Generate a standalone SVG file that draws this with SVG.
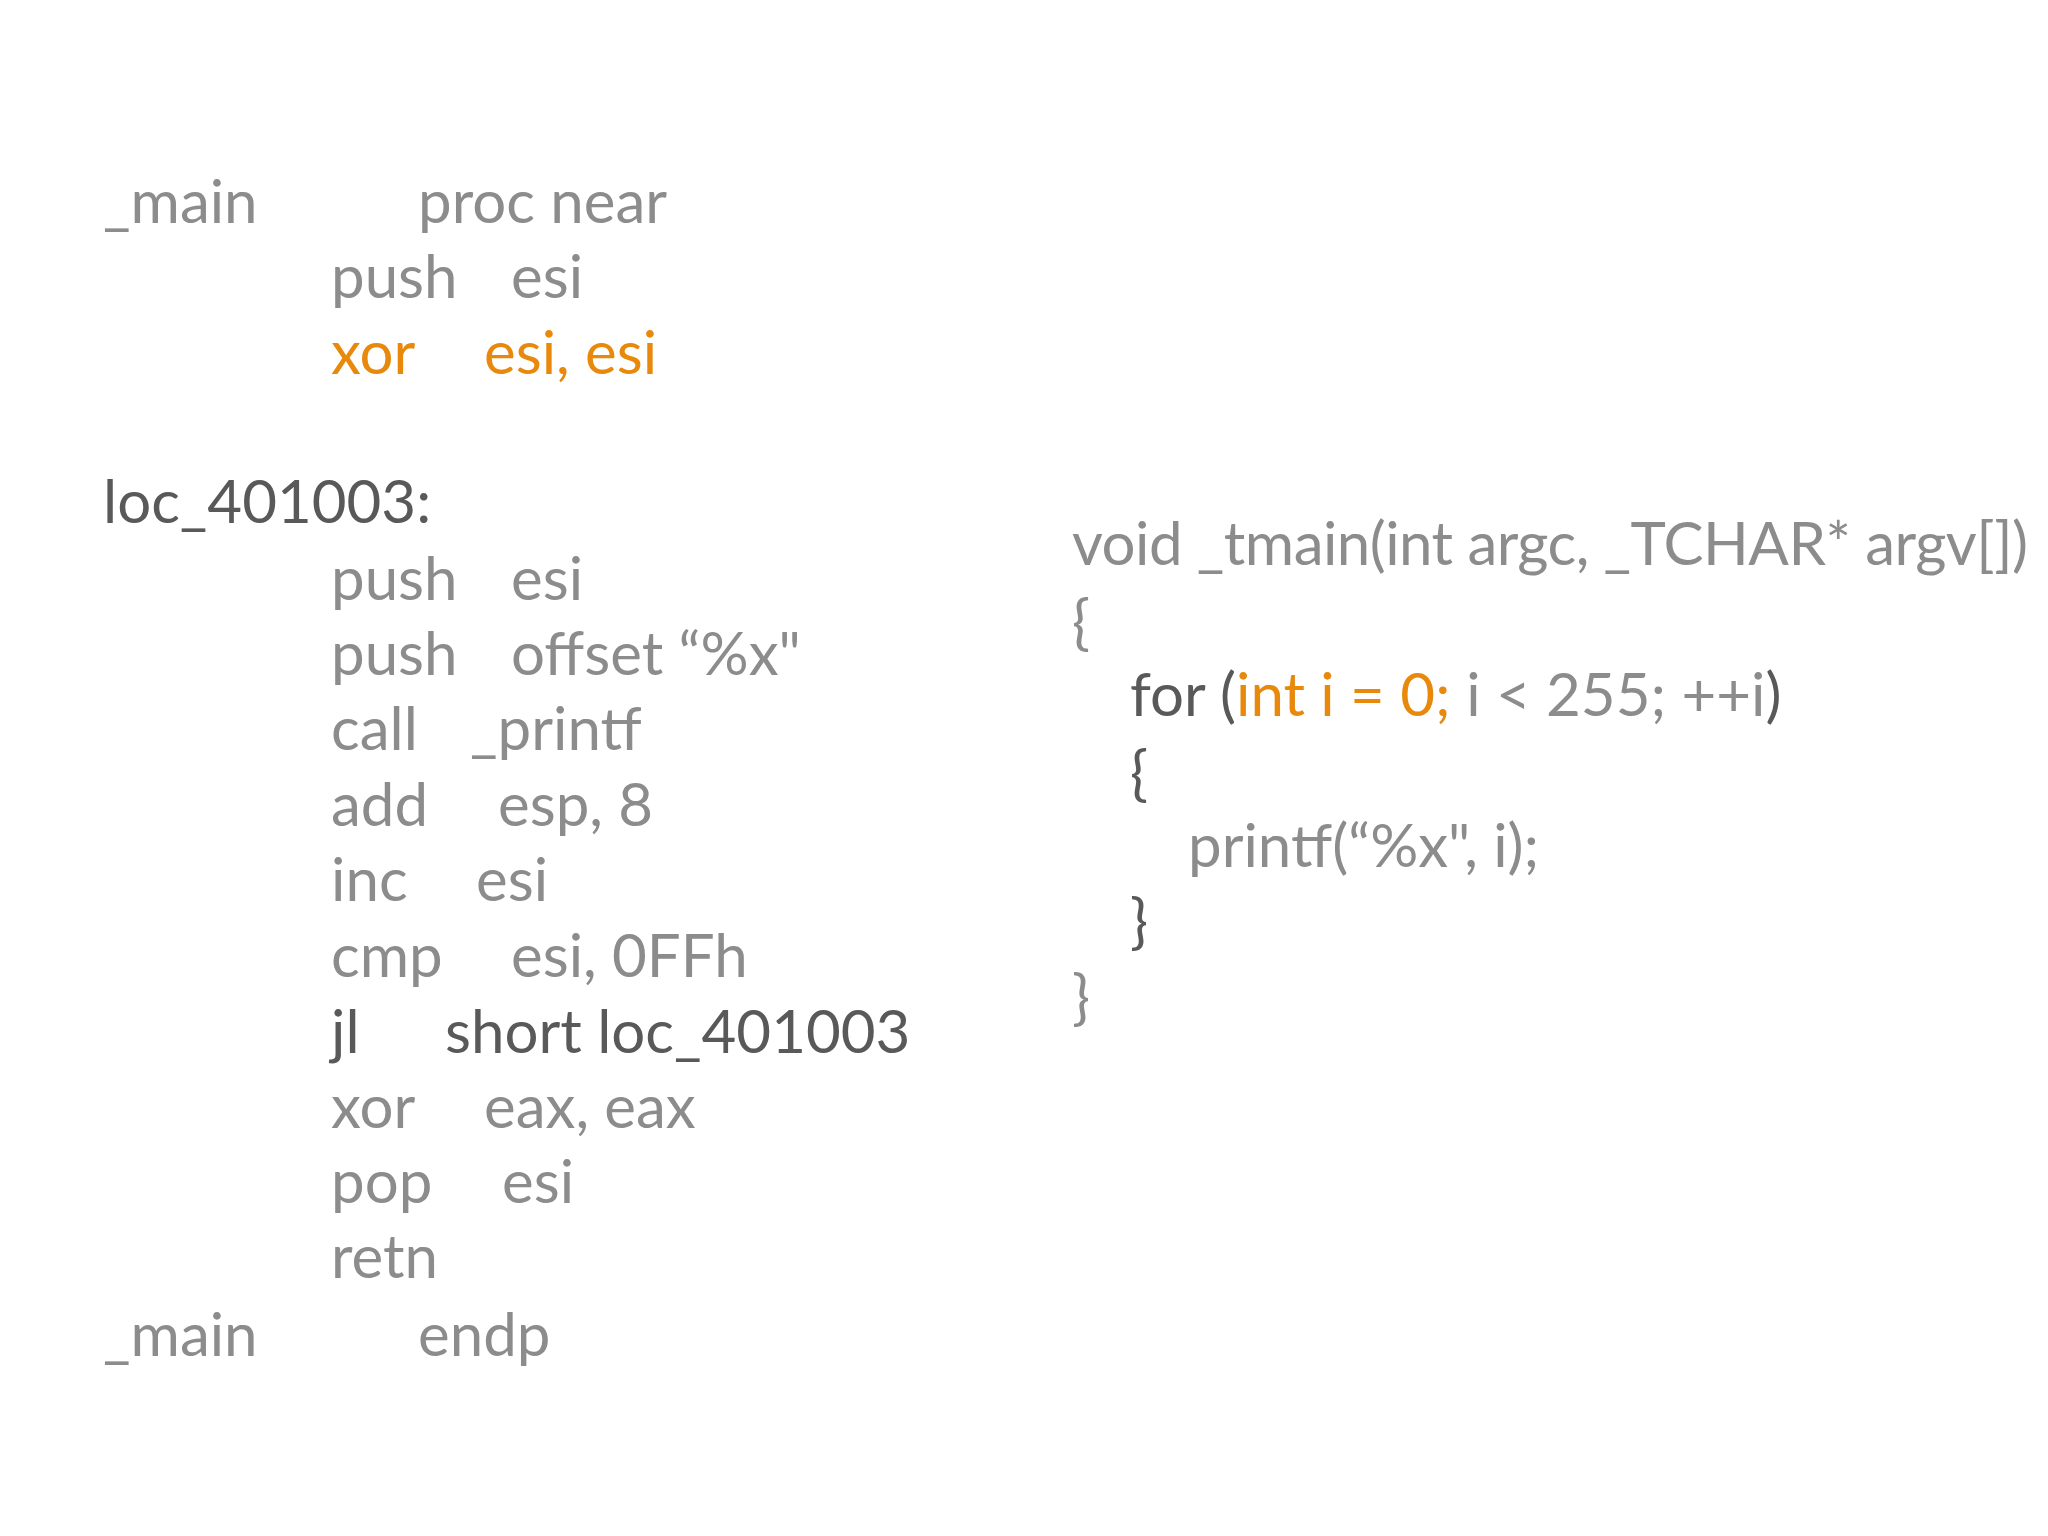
<svg xmlns="http://www.w3.org/2000/svg" width="2048" height="1536" viewBox="0 0 2048 1536">
<style>
text{font-family:"Lato","Open Sans",sans-serif;font-size:60px;fill:#8c8c8c}
.d{fill:#595959}.o{fill:#e8890c}
</style>
<rect width="2048" height="1536" fill="#fff"/>
<g id="asm">
<text x="103" y="223">_main</text><text x="418" y="223">proc near</text>
<text x="331" y="298">push</text><text x="511" y="298">esi</text>
<text x="331" y="374" class="o">xor</text><text x="484" y="374" class="o">esi, esi</text>
<text x="103" y="523" class="d">loc_401003:</text>
<text x="331" y="600">push</text><text x="511" y="600">esi</text>
<text x="331" y="675">push</text><text x="511" y="675">offset “%x"</text>
<text x="331" y="750">call</text><text x="470" y="750">_printf</text>
<text x="331" y="826">add</text><text x="498" y="826">esp, 8</text>
<text x="331" y="901">inc</text><text x="476" y="901">esi</text>
<text x="331" y="977">cmp</text><text x="511" y="977">esi, 0FFh</text>
<text x="331" y="1053" class="d">jl</text><text x="445" y="1053" class="d">short loc_401003</text>
<text x="331" y="1128">xor</text><text x="484" y="1128">eax, eax</text>
<text x="331" y="1203">pop</text><text x="502" y="1203">esi</text>
<text x="331" y="1278">retn</text>
<text x="103" y="1356">_main</text><text x="418" y="1356">endp</text>
</g>
<g id="src">
<text x="1072" y="565" textLength="956">void _tmain(int argc, _TCHAR* argv[])</text>
<text x="1072" y="643">{</text>
<text x="1130" y="716"><tspan class="d">for (</tspan><tspan class="o">int i = 0;</tspan> i &lt; 255; ++i<tspan class="d">)</tspan></text>
<text x="1130" y="794" class="d">{</text>
<text x="1188" y="867">printf(“%x", i);</text>
<text x="1130" y="942" class="d">}</text>
<text x="1072" y="1018">}</text>
</g>
</svg>
